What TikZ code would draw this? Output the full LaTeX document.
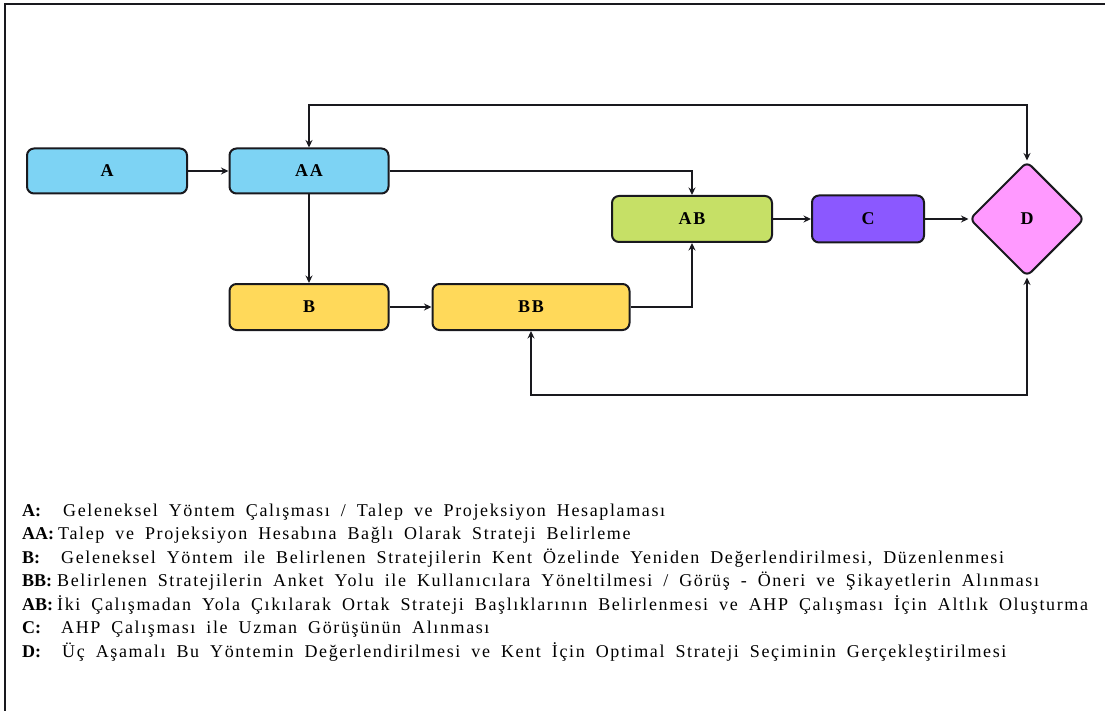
\documentclass[tikz,border=0pt]{standalone}
\usepackage{fontspec}
\setmainfont{Liberation Serif}[LetterSpace=9,WordSpace=1.8]
\newfontfamily\tagfont{Liberation Serif}
\usetikzlibrary{shapes.geometric,arrows.meta}

\definecolor{skyfill}{RGB}{125,211,244}
\definecolor{sunfill}{RGB}{255,217,90}
\definecolor{limefill}{RGB}{198,224,102}
\definecolor{violetfill}{RGB}{139,88,255}
\definecolor{pinkfill}{RGB}{255,153,255}
\definecolor{edgecol}{RGB}{25,25,30}

\tikzset{
  stagebox/.style={draw=edgecol, line width=2pt, rounded corners=7pt,
    inner sep=0pt, font=\fontsize{18}{20}\selectfont\bfseries},
  decisionbox/.style={draw=edgecol, line width=2pt, rounded corners=6pt,
    diamond, shape aspect=1, inner sep=0pt, minimum size=115pt,
    fill=pinkfill, font=\fontsize{18}{20}\selectfont\bfseries},
  flow/.style={draw=edgecol, line width=2pt, -{Stealth[length=7.5pt,width=7pt]}},
  twoway/.style={draw=edgecol, line width=2pt,
    {Stealth[length=7.5pt,width=7pt]}-{Stealth[length=7.5pt,width=7pt]}},
  keytag/.style={anchor=base west, inner sep=0pt,
    font=\tagfont\fontsize{18}{20}\selectfont\bfseries},
  keytext/.style={anchor=base west, inner sep=0pt,
    font=\fontsize{18}{20}\selectfont},
}

\begin{document}
\begin{tikzpicture}[x=1pt, y=-1pt]
  \useasboundingbox (0,0) rectangle (1105,711);
  % outer frame (top and left edges)
  \draw[line width=2pt, edgecol] (5,711) -- (5,4) -- (1105,4);

  % stages
  \node[stagebox, fill=skyfill, minimum width=160pt, minimum height=45pt] (A) at (107,171) {A};
  \node[stagebox, fill=skyfill, minimum width=159pt, minimum height=45pt] (AA) at (309,171) {AA};
  \node[stagebox, fill=sunfill, minimum width=159pt, minimum height=46pt] (B) at (309,307) {B};
  \node[stagebox, fill=sunfill, minimum width=197pt, minimum height=46pt] (BB) at (531,307) {BB};
  \node[stagebox, fill=limefill, minimum width=160pt, minimum height=46pt] (AB) at (692,219) {AB};
  \node[stagebox, fill=violetfill, minimum width=112pt, minimum height=47pt] (C) at (868,219) {C};
  \node[decisionbox] (D) at (1027,219) {D};

  % routing levels of the feedback loops
  \coordinate (toploop) at (0,105);
  \coordinate (botloop) at (0,395);

  % connectors
  \draw[flow] (A) -- (AA);
  \draw[flow] (AA) -- (B);
  \draw[flow] (B) -- (BB);
  \draw[flow] (AA.east) -| (AB.north);
  \draw[flow] (BB.east) -| (AB.south);
  \draw[flow] (AB) -- (C);
  \draw[flow] (C) -- (D);
  \draw[twoway] (AA.north) -- (AA.north |- toploop) -| (D.north);
  \draw[twoway] (BB.south) -- (BB.south |- botloop) -| (D.south);

  % key to the stages
  \node[keytag] (kA)  at (22,516)   {A:};
  \node[keytext] (tA) at (63,516)   {Geleneksel Yöntem Çalışması / Talep ve Projeksiyon Hesaplaması};
  \node[keytag] (kAA) at (22,539.5) {AA:};
  \node[keytext] (tAA) at (58,539.5) {Talep ve Projeksiyon Hesabına Bağlı Olarak Strateji Belirleme};
  \node[keytag] (kB)  at (22,563)   {B:};
  \node[keytext] (tB) at (61,563)   {Geleneksel Yöntem ile Belirlenen Stratejilerin Kent Özelinde Yeniden Değerlendirilmesi, Düzenlenmesi};
  \node[keytag] (kBB) at (22,586.5) {BB:};
  \node[keytext] (tBB) at (57,586.5) {Belirlenen Stratejilerin Anket Yolu ile Kullanıcılara Yöneltilmesi / Görüş - Öneri ve Şikayetlerin Alınması};
  \node[keytag] (kAB) at (22,610)   {AB:};
  \node[keytext] (tAB) at (57,610)  {İki Çalışmadan Yola Çıkılarak Ortak Strateji Başlıklarının Belirlenmesi ve AHP Çalışması İçin Altlık Oluşturma};
  \node[keytag] (kC)  at (22,633.5) {C:};
  \node[keytext] (tC) at (61,633.5) {AHP Çalışması ile Uzman Görüşünün Alınması};
  \node[keytag] (kD)  at (22,657)   {D:};
  \node[keytext] (tD) at (62,657)   {Üç Aşamalı Bu Yöntemin Değerlendirilmesi ve Kent İçin Optimal Strateji Seçiminin Gerçekleştirilmesi};
\end{tikzpicture}
\end{document}
